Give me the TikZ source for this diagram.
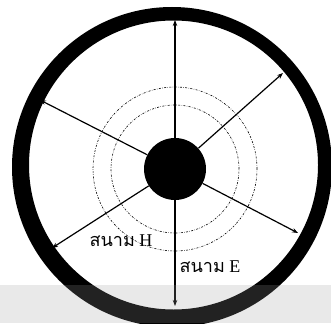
\documentclass[tikz,border=0pt]{standalone}
\usepackage{fontspec}
\setmainfont{Liberation Serif}
\newfontfamily\thaifont[Script=Thai]{Loma}
\usetikzlibrary{arrows.meta}
\begin{document}
\begin{tikzpicture}[x=1pt, y=-1pt, font=\fontsize{18}{20}\selectfont,
		field/.style={line width=1.2pt, -{Stealth[length=6pt, width=4.5pt]}},
		ring/.style={line width=0.6pt, dash pattern=on 2pt off 1.4pt on 0.5pt off 1.4pt},
		lbl/.style={inner sep=0pt}]
	\useasboundingbox (0,0) rectangle (331,323);
	% outer conductor
	\fill[even odd rule] (172,167) circle (160pt) (173.5,165) circle (144.5pt);
	% inner conductor and H field rings
	\node[circle, fill=black, inner sep=0pt, minimum size=62pt] (core) at (175,169) {};
	\draw[ring] (core.center) circle (82pt);
	\draw[ring] (core.center) circle (64pt);
	% E field ends on the outer conductor
	\coordinate (top) at (175,20);
	\coordinate (bot) at (175,306);
	\coordinate (ur) at (283,73);
	\coordinate (lr) at (298,233);
	\coordinate (ul) at (40,100);
	\coordinate (ll) at (52,248);
	\foreach \e in {top, bot, ur, lr, ul, ll}
		\draw[field] (core) -- (\e);
	\node[lbl] (hlab) at (121,241) {{\thaifont สนาม} H};
	\node[lbl] (elab) at (210,267) {{\thaifont สนาม} E};
	% grey strip along the bottom
	\fill[gray!77, opacity=0.22] (0,285) rectangle (331,323);
\end{tikzpicture}
\end{document}
